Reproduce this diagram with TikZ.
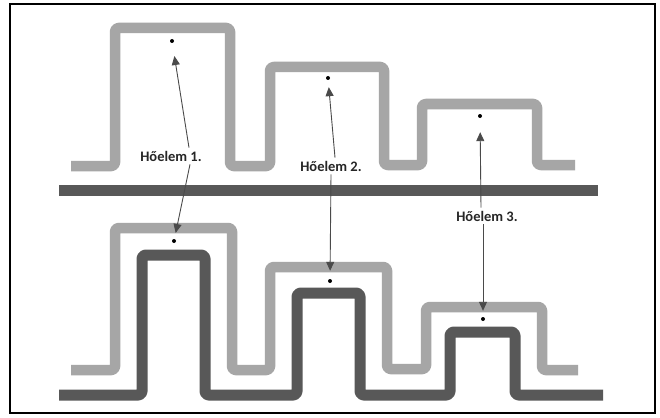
\documentclass[tikz,border=0pt]{standalone}
\usepackage{fontspec}
\setmainfont{Carlito}
\usetikzlibrary{arrows.meta}
\definecolor{lightg}{HTML}{A6A6A6}
\definecolor{darkg}{HTML}{585858}
\definecolor{arrowg}{HTML}{4A4A4A}
\tikzset{
  lightpath/.style={draw=lightg,line width=10.5pt,rounded corners=3.5pt,line join=round},
  darkpath/.style={draw=darkg,line width=11pt,rounded corners=3.5pt,line join=round},
  dotnode/.style={circle,fill=black,inner sep=0pt,minimum size=4pt},
  lbl/.style={font=\bfseries\fontsize{14.5}{16}\selectfont,text=black!85,inner sep=1pt},
  pointer/.style={draw=arrowg,line width=0.9pt,-{Triangle[length=9pt,width=8pt]}},
}
\begin{document}
\begin{tikzpicture}[x=1pt,y=-1pt]
\useasboundingbox (0,0) rectangle (660,417);
\fill[white] (0,0) rectangle (660,417);
\draw[line width=1.3pt,black] (10,4) rectangle (655,413);
% upper light path
\draw[lightpath] (71,166) -- (115,166) -- (115,28) -- (230,28) -- (230,166) -- (270,166) -- (270,67) -- (384,67) -- (384,165) -- (422,165) -- (422,104) -- (537,104) -- (537,165) -- (575,165);
% dark bar
\draw[draw=darkg,line width=11pt] (59,190) -- (598,190);
% lower light path
\draw[lightpath] (71,370) -- (115,370) -- (115,228) -- (232,228) -- (232,370) -- (270,370) -- (270,267) -- (387,267) -- (387,369) -- (426,369) -- (426,307) -- (542,307) -- (542,370) -- (578,370);
% lower dark path
\draw[darkpath] (59,395) -- (142,395) -- (142,255) -- (205,255) -- (205,395) -- (297,395) -- (297,293) -- (360,293) -- (360,395) -- (450,395) -- (450,332) -- (515,332) -- (515,395) -- (603,395);
% dots
\node[dotnode] (d1) at (172,41) {};
\node[dotnode] (d2) at (328,78) {};
\node[dotnode] (d3) at (480,116) {};
\node[dotnode] (e1) at (174,241) {};
\node[dotnode] (e2) at (330,281) {};
\node[dotnode] (e3) at (483,319) {};
% labels
\node[lbl] (h1) at (171,156) {Hőelem 1.};
\node[lbl] (h2) at (331,166) {Hőelem 2.};
\node[lbl] (h3) at (487,216) {Hőelem 3.};
% pointers
\draw[pointer,shorten >=13pt] (h1.north) ++(18,-2) coordinate (h1a) (h1a) -- (d1);
\draw[pointer,shorten >=6pt] (h1.south) ++(19,2) coordinate (h1b) (h1b) -- (e1);
\draw[pointer,shorten >=7pt] (h2.north) ++(4,-2) coordinate (h2a) (h2a) -- (d2);
\draw[pointer,shorten >=8pt] (h2.south) ++(0,2) coordinate (h2b) (h2b) -- (e2);
\draw[pointer,shorten >=14pt] (h3.north) ++(-6,-2) coordinate (h3a) (h3a) -- (d3);
\draw[pointer,shorten >=6pt] (h3.south) ++(-4,2) coordinate (h3b) (h3b) -- (e3);
\end{tikzpicture}
\end{document}
